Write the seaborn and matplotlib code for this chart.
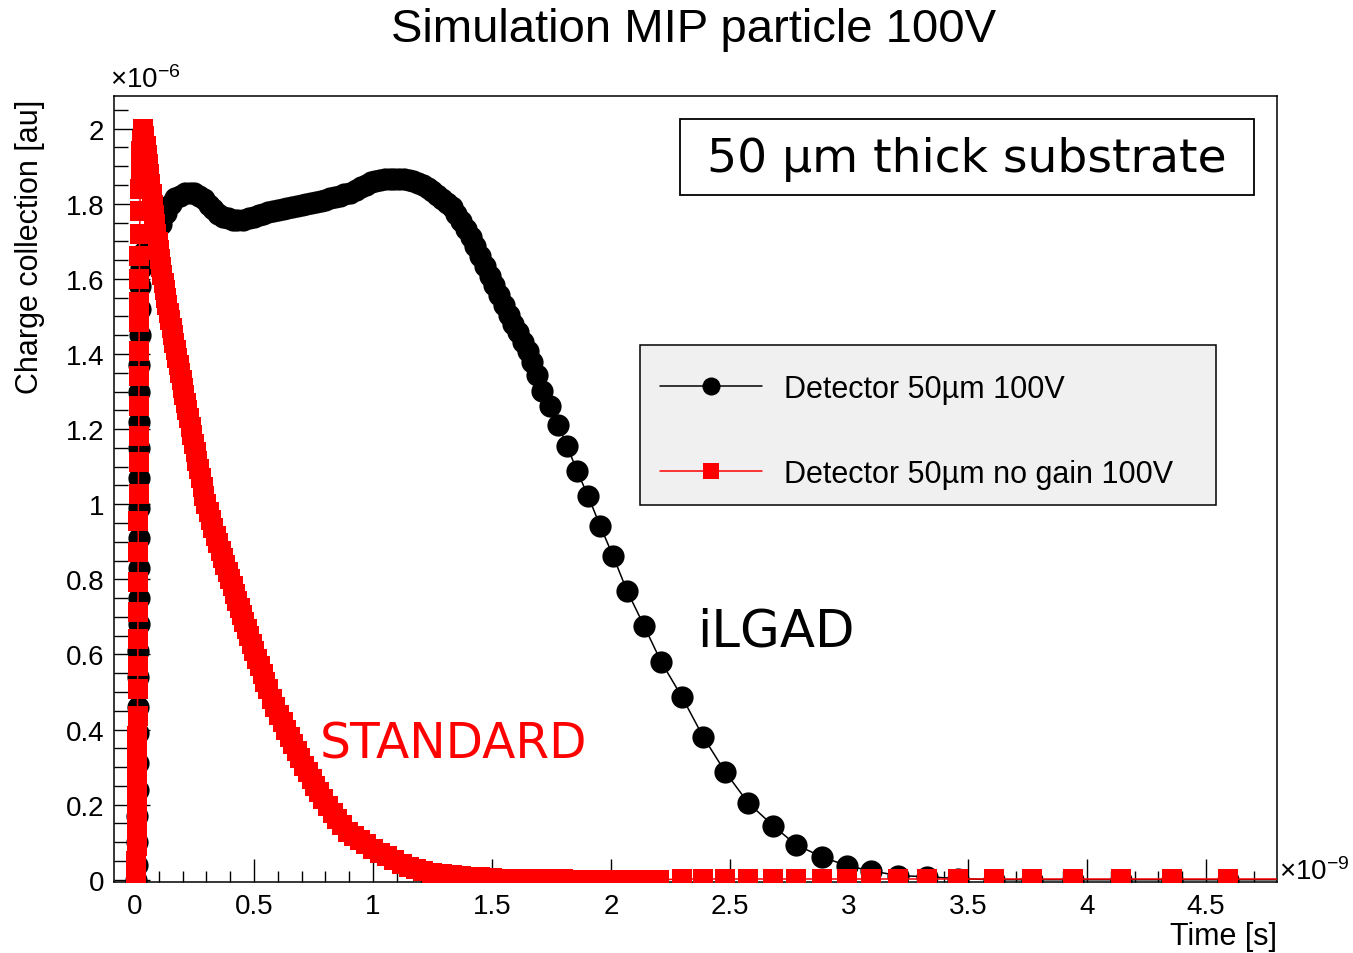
import matplotlib
matplotlib.use("Agg")
import matplotlib.pyplot as plt
import seaborn as sns
from matplotlib.patches import Rectangle
from matplotlib.ticker import MultipleLocator, FuncFormatter
from matplotlib.lines import Line2D

# ---------------- data (time in 1e-9 s, charge in 1e-6 au) ----------------
t_gain_rise = [0.006, 0.008, 0.009, 0.010, 0.011, 0.012, 0.013, 0.013, 0.014, 0.014,
               0.015, 0.015, 0.016, 0.016, 0.017, 0.017, 0.018, 0.018, 0.019, 0.019,
               0.020, 0.021, 0.023, 0.026, 0.035, 0.050]
q_gain_rise = [0.0, 0.04, 0.10, 0.17, 0.24, 0.31, 0.39, 0.46, 0.54, 0.61,
               0.68, 0.75, 0.83, 0.91, 0.99, 1.07, 1.15, 1.22, 1.30, 1.37,
               1.45, 1.52, 1.58, 1.63, 1.67, 1.70]
t_gain_body = [0.07, 0.09, 0.11, 0.13, 0.15, 0.17, 0.19, 0.21, 0.23, 0.25,
               0.27, 0.29, 0.31, 0.33, 0.35, 0.37, 0.39, 0.41, 0.43, 0.455,
               0.48, 0.50, 0.52, 0.54, 0.56, 0.58, 0.60, 0.62, 0.64, 0.66,
               0.68, 0.70, 0.72, 0.74, 0.76, 0.78, 0.80, 0.82, 0.84, 0.86,
               0.88, 0.905, 0.93, 0.95, 0.97, 0.99, 1.01, 1.03, 1.05, 1.07,
               1.09, 1.11, 1.13, 1.15, 1.17, 1.19, 1.21, 1.23, 1.25, 1.27,
               1.29, 1.31, 1.33, 1.35, 1.37, 1.39, 1.41, 1.43, 1.45, 1.47,
               1.49, 1.51, 1.53, 1.55, 1.57, 1.59, 1.61, 1.63, 1.65, 1.67, 1.69]
q_gain_body = [1.71, 1.725, 1.745, 1.775, 1.80, 1.815, 1.822, 1.828, 1.830, 1.829,
               1.822, 1.812, 1.798, 1.785, 1.774, 1.766, 1.761, 1.758, 1.757, 1.758,
               1.761, 1.765, 1.769, 1.773, 1.777, 1.781, 1.784, 1.787, 1.790, 1.792,
               1.794, 1.796, 1.799, 1.802, 1.805, 1.808, 1.811, 1.815, 1.818, 1.822,
               1.826, 1.830, 1.837, 1.844, 1.851, 1.857, 1.861, 1.864, 1.866, 1.867,
               1.867, 1.866, 1.865, 1.863, 1.860, 1.856, 1.850, 1.842, 1.833, 1.823,
               1.812, 1.802, 1.792, 1.774, 1.755, 1.734, 1.711, 1.687, 1.661, 1.635,
               1.609, 1.583, 1.557, 1.531, 1.505, 1.480, 1.458, 1.433, 1.408, 1.378, 1.343]
t_gain_tail = [1.710, 1.744, 1.777, 1.815, 1.857, 1.903, 1.954, 2.008, 2.067, 2.139,
               2.210, 2.298, 2.387, 2.479, 2.576, 2.681, 2.777, 2.887, 2.992, 3.092,
               3.206, 3.328, 3.458, 3.609, 3.769, 3.941, 4.143, 4.357, 4.592, 4.870]
q_gain_tail = [1.302, 1.262, 1.212, 1.156, 1.089, 1.023, 0.943, 0.863, 0.770, 0.676,
               0.581, 0.487, 0.381, 0.288, 0.205, 0.144, 0.093, 0.061, 0.037, 0.024,
               0.011, 0.008, 0.003, 0.0, 0.0, 0.0, 0.0, 0.0, 0.0, 0.0]

t_std_rise = [0.004, 0.005, 0.006, 0.007, 0.008, 0.008, 0.009, 0.009, 0.010, 0.010,
              0.011, 0.011, 0.012, 0.012, 0.013, 0.013, 0.014, 0.014, 0.015, 0.015,
              0.016, 0.016, 0.017, 0.017, 0.018, 0.018, 0.019, 0.019, 0.020, 0.021,
              0.022, 0.024, 0.026, 0.029, 0.032]
q_std_rise = [0.0, 0.02, 0.05, 0.09, 0.14, 0.19, 0.24, 0.29, 0.34, 0.383,
              0.437, 0.509, 0.570, 0.642, 0.714, 0.794, 0.874, 0.956, 1.028, 1.113,
              1.182, 1.262, 1.342, 1.409, 1.486, 1.539, 1.60, 1.66, 1.72, 1.78,
              1.84, 1.89, 1.94, 1.97, 1.99]
t_std_fall = [0.035, 0.040, 0.045, 0.050, 0.055, 0.060, 0.065, 0.070, 0.075, 0.080,
              0.085, 0.090, 0.095, 0.100, 0.105, 0.110, 0.115, 0.120, 0.125, 0.130,
              0.136, 0.142, 0.148, 0.154, 0.160, 0.166, 0.172, 0.178, 0.184, 0.190,
              0.196, 0.202, 0.208, 0.214, 0.220, 0.227, 0.234, 0.241, 0.248, 0.255,
              0.262, 0.269, 0.276, 0.284, 0.292, 0.300, 0.310, 0.320, 0.330, 0.340,
              0.350, 0.360, 0.370, 0.380, 0.390, 0.400, 0.410, 0.420, 0.430, 0.440,
              0.450, 0.460, 0.470, 0.480, 0.490, 0.500, 0.512, 0.524, 0.536, 0.548,
              0.560, 0.575, 0.590, 0.605, 0.620, 0.635, 0.650, 0.665, 0.680, 0.695,
              0.710, 0.726, 0.742, 0.758, 0.774, 0.790, 0.810, 0.830, 0.850, 0.870,
              0.895, 0.920, 0.945, 0.970, 1.000, 1.030, 1.060, 1.090, 1.120, 1.150,
              1.180, 1.210, 1.250, 1.290, 1.330, 1.370, 1.410, 1.450, 1.500, 1.550,
              1.600, 1.650, 1.700, 1.750, 1.800, 1.850, 1.900, 1.950, 2.000, 2.050,
              2.100, 2.150, 2.200]
q_std_fall = [2.00, 1.98, 1.955, 1.93, 1.905, 1.88, 1.852, 1.825, 1.797, 1.77,
              1.745, 1.72, 1.698, 1.676, 1.654, 1.632, 1.61, 1.59, 1.57, 1.55,
              1.53, 1.51, 1.49, 1.47, 1.45, 1.43, 1.41, 1.39, 1.37, 1.35,
              1.33, 1.31, 1.29, 1.27, 1.25, 1.23, 1.205, 1.183, 1.16, 1.138,
              1.115, 1.093, 1.07, 1.047, 1.023, 1.00, 0.978, 0.957, 0.936, 0.916,
              0.896, 0.876, 0.857, 0.838, 0.819, 0.80, 0.781, 0.762, 0.743, 0.724,
              0.705, 0.686, 0.667, 0.648, 0.629, 0.61, 0.589, 0.568, 0.547, 0.527,
              0.507, 0.482, 0.461, 0.44, 0.42, 0.40, 0.381, 0.362, 0.343, 0.324,
              0.304, 0.286, 0.268, 0.25, 0.233, 0.216, 0.197, 0.179, 0.162, 0.145,
              0.128, 0.116, 0.105, 0.094, 0.083, 0.072, 0.062, 0.052, 0.043, 0.035,
              0.029, 0.024, 0.019, 0.015, 0.012, 0.009, 0.007, 0.006, 0.004, 0.003,
              0.002, 0.002, 0.001, 0.001, 0.001, 0.0, 0.0, 0.0, 0.0, 0.0,
              0.0, 0.0, 0.0]
t_std_tail = [2.298, 2.387, 2.479, 2.576, 2.681, 2.777, 2.887, 2.992, 3.092, 3.206,
              3.328, 3.458, 3.609, 3.769, 3.941, 4.143, 4.357, 4.592, 4.870]
q_std_tail = [0.002, 0.002, 0.002, 0.002, 0.002, 0.002, 0.002, 0.002, 0.002, 0.002,
              0.002, 0.002, 0.002, 0.002, 0.002, 0.002, 0.002, 0.002, 0.002]

t_gain = t_gain_rise + t_gain_body + t_gain_tail
q_gain = q_gain_rise + q_gain_body + q_gain_tail
t_std = t_std_rise + t_std_fall + t_std_tail
q_std = q_std_rise + q_std_fall + q_std_tail

label_gain = "Detector 50\u00b5m 100V"
label_std = "Detector 50\u00b5m no gain 100V"
x_ticks = [0, 0.5, 1, 1.5, 2, 2.5, 3, 3.5, 4, 4.5]
y_ticks = [0, 0.2, 0.4, 0.6, 0.8, 1, 1.2, 1.4, 1.6, 1.8, 2]

# ---------------- style ----------------
sns.set_style("ticks")
plt.rcParams["font.family"] = ["Liberation Sans", "DejaVu Sans"]
plt.rcParams["mathtext.fontset"] = "custom"
plt.rcParams["mathtext.rm"] = "Liberation Sans"
plt.rcParams["mathtext.it"] = "Liberation Sans"
for key in ["text.color", "axes.labelcolor", "xtick.color", "ytick.color", "axes.edgecolor"]:
    plt.rcParams[key] = "black"

W, H = 1353, 954
fig = plt.figure(figsize=(W / 100, H / 100), dpi=100)
L, R, T, B = 114, 1277, 97, 883
ax = fig.add_axes([L / W, 1 - B / H, (R - L) / W, (B - T) / H])

sns.lineplot(x=t_gain, y=q_gain, ax=ax, estimator=None, sort=False, color="black",
             linewidth=1.1, marker="o", markersize=16, markeredgewidth=0,
             markerfacecolor="black", zorder=2)
sns.lineplot(x=t_std, y=q_std, ax=ax, estimator=None, sort=False, color="#ff0000",
             linewidth=1.1, marker="s", markersize=14, markeredgewidth=0,
             markerfacecolor="#ff0000", zorder=3)

ax.set_xlim(-0.088, 4.798)
ax.set_ylim(-0.006, 2.087)
ax.set_xlabel("")
ax.set_ylabel("")

ax.set_xticks(x_ticks)
ax.set_yticks(y_ticks)
ax.xaxis.set_minor_locator(MultipleLocator(0.1))
ax.yaxis.set_minor_locator(MultipleLocator(0.05))
fmt = FuncFormatter(lambda v, p: "%g" % round(v, 3))
ax.xaxis.set_major_formatter(fmt)
ax.yaxis.set_major_formatter(fmt)
ax.tick_params(axis="both", which="both", direction="in", top=False, right=False,
               width=1.0, colors="black", labelsize=20)
ax.tick_params(axis="y", which="major", length=26, pad=7)
ax.tick_params(axis="y", which="minor", length=10)
ax.tick_params(axis="x", which="major", length=16.5, pad=8)
ax.tick_params(axis="x", which="minor", length=8)
for s in ax.spines.values():
    s.set_linewidth(1.1)
    s.set_color("black")
    s.set_visible(True)

# legend box
ax.add_patch(Rectangle(((640 - L) / (R - L), (B - 506) / (B - T)),
                       (1216 - 640) / (R - L), (506 - 346) / (B - T),
                       transform=ax.transAxes, facecolor="#f0f0f0",
                       edgecolor="black", linewidth=1.1, zorder=4))
handles = [Line2D([], [], color="black", linewidth=1.1, marker="o", markersize=13,
                  markeredgewidth=0),
           Line2D([], [], color="#ff0000", linewidth=1.1, marker="s", markersize=12,
                  markeredgewidth=0)]
leg = ax.legend(handles, [label_gain, label_std], loc="upper left",
                bbox_to_anchor=(660 / W, 1 - 375 / H), bbox_transform=fig.transFigure,
                frameon=False, fontsize=22, handlelength=3.33, handletextpad=0.72,
                labelspacing=1.8, borderpad=0, borderaxespad=0)
leg.set_zorder(5)
for txt in leg.get_texts():
    txt.set_color("black")

# annotation box
ax.add_patch(Rectangle(((680 - L) / (R - L), (B - 196) / (B - T)),
                       (1254 - 680) / (R - L), (196 - 120) / (B - T),
                       transform=ax.transAxes, facecolor="white",
                       edgecolor="black", linewidth=1.3, zorder=4))
fig.text(967 / W, 1 - 160 / H, "50 \u00b5m thick substrate", ha="center", va="center",
         fontsize=34, family="DejaVu Sans", color="black", zorder=6)
fig.text(697 / W, 1 - 633 / H, "iLGAD", ha="left", va="center",
         fontsize=37, family="DejaVu Sans", color="black")
fig.text(320 / W, 1 - 745 / H, "STANDARD", ha="left", va="center",
         fontsize=35, family="DejaVu Sans", color="#ff0000")

# titles
fig.text(694 / W, 1 - 30 / H, "Simulation MIP particle 100V", ha="center", va="center",
         fontsize=34, color="black")
fig.text(30 / W, 1 - 247 / H, "Charge collection [au]", rotation=90,
         ha="center", va="center", fontsize=22, color="black")
fig.text(R / W, 1 - 937 / H, "Time [s]", ha="right", va="center", fontsize=22,
         color="black")
fig.text(110 / W, 1 - 80 / H, r"$\times10^{-6}$", ha="left", va="center", fontsize=20,
         color="black")
fig.text(1279 / W, 1 - 872 / H, r"$\times10^{-9}$", ha="left", va="center", fontsize=20,
         color="black")

fig.savefig("out.png", dpi=100)
